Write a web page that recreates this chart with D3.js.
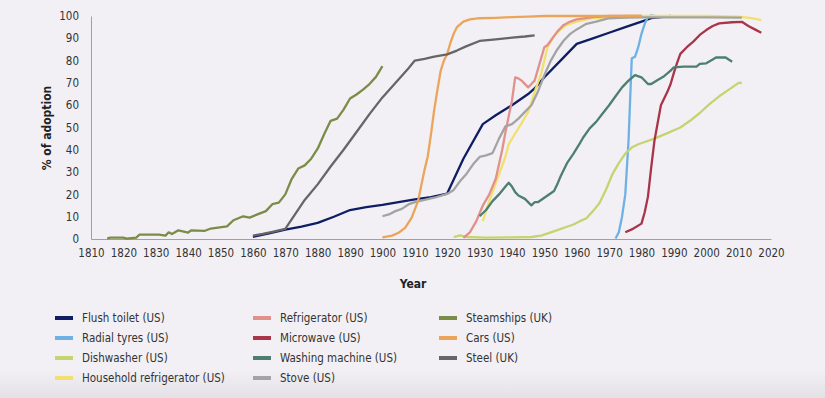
<!DOCTYPE html>
<html>
<head>
<meta charset="utf-8">
<script src="https://cdn.jsdelivr.net/npm/d3@7"></script>
<style>
  body { margin: 0; background: #f2f0f4; }
  #chart { width: 825px; height: 398px; }
  text { font-family: "Liberation Sans Narrow", "DejaVu Sans Condensed", sans-serif; fill: #333; }
  .axis text { font-size: 11.5px; }
  .axis path { stroke: #a0a0a0; }
  .ttl { font-weight: bold; font-size: 12px; fill: #222; }
  .leg text { font-size: 11.5px; }
</style>
</head>
<body>
<div id="chart"></div>
<script>
var xTicks = [1810, 1820, 1830, 1840, 1850, 1860, 1870, 1880, 1890, 1900, 1910,
  1920, 1930, 1940, 1950, 1960, 1970, 1980, 1990, 2000, 2010, 2020];
var yTicks = [0, 10, 20, 30, 40, 50, 60, 70, 80, 90, 100];

var flush = [[1860,1],[1865,2.5],[1870,4.2],[1875,5.5],[1880,7.2],[1885,10],[1890,13],[1895,14.3],
  [1900,15.3],[1905,16.5],[1910,17.8],[1915,18.8],[1920,20.4],[1925,36],[1931,51.5],[1935,55.5],
  [1940,60],[1945,65],[1947,67.5],[1950,72.5],[1955,80],[1960,87.5],[1965,90],[1970,92.5],
  [1975,95],[1980,97.5],[1983,99],[1986,99.5],[1989,100]];
var radial = [[1972,0.2],[1973,3],[1974,10],[1975,20],[1976,44],[1977,81],[1978,81.7],[1979,86],
  [1980,92],[1981,96.5],[1982,99.5],[1983,100.3],[1984,100]];
var dish = [[1922,0.9],[1924,1.6],[1926,0.9],[1932,0.6],[1940,0.7],[1946,0.9],[1949,1.5],[1952,3],
  [1954,4],[1957,5.5],[1959,6.5],[1961,8],[1963,9.3],[1965,12.5],[1967,16],[1969,22],[1971,29],
  [1973,34],[1975,38.3],[1977,41],[1979,42.5],[1981,43.5],[1984,45],[1988,47.5],[1992,50],
  [1995,53],[1998,56.5],[2001,60.5],[2004,64],[2007,67],[2010,70],[2011,70]];
var household = [[1931,8],[1933,17],[1935,25],[1936,29],[1938,37],[1939,42.5],[1941,47.3],[1943,52],
  [1945,57],[1946,61],[1947,66],[1949,74],[1951,86],[1953,91],[1955,94],[1957,96],[1960,97.5],
  [1965,99],[1970,99.5],[1975,100],[1980,100],[1990,100],[2000,100],[2010,99.7],[2014,99],[2017,98.2]];
var refrig = [[1925,0.5],[1927,3],[1929,8],[1931,15],[1933,20],[1935,27],[1937,40],[1938,48],
  [1939,55],[1940,62],[1941,72.5],[1942,72],[1943,71],[1945,68],[1946,69.5],[1947,71],[1948,76],
  [1949,81],[1950,86],[1951,87],[1952,89],[1954,93],[1956,96],[1958,97.5],[1960,98.5],[1965,99.5],
  [1970,100],[1975,100],[1980,100]];
var microwave = [[1975,3],[1977,4.3],[1980,6.9],[1981,12],[1982,19],[1983,32],[1984,44],[1985,52],
  [1986,60],[1988,66],[1989,69.5],[1990,74.5],[1991,79],[1992,83],[1994,86],[1996,88.5],[1998,91.5],
  [2000,93.7],[2002,95.5],[2004,96.7],[2008,97.2],[2011,97.4],[2013,95.5],[2015,94],[2017,92.5]];
var washing = [[1930,10.2],[1932,13],[1934,17],[1936,20],[1938,23.5],[1939,25.2],[1940,23.5],
  [1941,21],[1942,19.5],[1944,18],[1946,15.1],[1947,16.5],[1948,16.5],[1950,18.5],[1952,20.5],
  [1953,21.5],[1954,24.5],[1955,28],[1957,34],[1959,38.3],[1961,43],[1962,45.5],[1964,49.6],
  [1966,52.5],[1968,56.3],[1970,60],[1972,64],[1974,68],[1976,71],[1978,73.5],[1980,72.5],
  [1982,69.5],[1983,69.5],[1985,71.3],[1987,73],[1989,75.5],[1990,77],[1993,77.3],[1997,77.3],
  [1998,78.5],[2000,78.8],[2002,80.5],[2003,81.4],[2006,81.4],[2008,79.5]];
var stove = [[1900,10.2],[1902,11],[1904,12.5],[1906,13.5],[1908,15.5],[1910,16.5],[1913,17.5],
  [1916,18.5],[1920,20.2],[1922,22],[1924,26],[1926,29.3],[1928,33.5],[1930,36.8],[1932,37.5],
  [1934,38.5],[1936,45],[1938,50.5],[1940,51.5],[1942,54],[1944,57],[1946,60],[1948,66],[1950,73.5],
  [1952,80],[1954,85],[1956,89],[1958,92],[1960,94],[1963,96.5],[1966,97.5],[1970,99],[1975,99.3],
  [1980,99.4],[1990,99.4],[2000,99.4],[2011,99.3]];
var steam = [[1815,0.3],[1816,0.6],[1820,0.6],[1821,0.2],[1824,0.6],[1825,2],[1831,2],[1833,1.5],
  [1834,3],[1835,2.2],[1837,3.9],[1840,2.9],[1841,3.9],[1845,3.6],[1847,4.7],[1852,5.7],[1854,8.4],
  [1857,10.2],[1859,9.6],[1862,11.4],[1864,12.5],[1866,15.6],[1868,16.3],[1870,20],[1872,27],
  [1874,31.6],[1876,33],[1878,36],[1880,40.5],[1882,47],[1884,53],[1886,54],[1888,58],[1890,63],
  [1892,64.8],[1894,67],[1896,69.5],[1898,72.7],[1900,77.5]];
var cars = [[1900,0.7],[1903,1.5],[1905,2.8],[1907,5],[1909,9.5],[1911,17],[1912,24],[1913,31],
  [1914,37],[1915,47],[1916,58],[1917,67],[1918,75.5],[1919,80],[1920,83],[1921,88],[1922,92],
  [1923,95],[1925,97.5],[1927,98.5],[1930,99],[1935,99.2],[1940,99.5],[1945,99.7],[1950,100],
  [1960,100],[1970,100],[1980,100]];
var steel = [[1860,1.5],[1863,2.3],[1866,3.2],[1870,4.5],[1873,11],[1876,17.5],[1880,24.5],
  [1884,32.5],[1888,40],[1892,48],[1896,56],[1900,63.5],[1904,70],[1908,76.5],[1910,80],[1913,80.8],
  [1916,81.8],[1920,82.8],[1923,84.5],[1926,86.5],[1930,88.8],[1935,89.5],[1940,90.3],[1944,90.8],
  [1947,91.3]];

var seriesNames = ["Flush toilet (US)", "Radial tyres (US)", "Dishwasher (US)", "Household refrigerator (US)",
  "Refrigerator (US)", "Microwave (US)", "Washing machine (US)", "Stove (US)",
  "Steamships (UK)", "Cars (US)", "Steel (UK)"];
var seriesData = [flush, radial, dish, household, refrig, microwave, washing, stove, steam, cars, steel];
var seriesColors = ["#0f1d64", "#6eb1e4", "#c4d56f", "#f1e06e", "#e1918b", "#a8354a", "#4c7f6f",
  "#a3a3a3", "#7b8c48", "#eba55a", "#666666"];

window.onload = function() {
  var width = 825, height = 398;
  var svg = d3.select('#chart').append('svg').attr('width', width).attr('height', height);

  var defs = svg.append('defs');
  var grad = defs.append('linearGradient').attr('id', 'bg').attr('x1', 0).attr('x2', 0).attr('y1', 0).attr('y2', 1);
  grad.append('stop').attr('offset', '0.93').attr('stop-color', '#f2f0f4');
  grad.append('stop').attr('offset', '1').attr('stop-color', '#e4e2e6');
  svg.append('rect').attr('width', width).attr('height', height).attr('fill', 'url(#bg)');

  var x = d3.scaleLinear().domain([1810, 2020]).range([91, 771]);
  var y = d3.scaleLinear().domain([0, 100]).range([239, 16]);

  svg.append('g').attr('class', 'axis').attr('transform', 'translate(0,239)')
    .call(d3.axisBottom(x).tickValues(xTicks).tickFormat(d3.format('d')).tickSize(0).tickPadding(10));
  svg.append('g').attr('class', 'axis').attr('transform', 'translate(91,0)')
    .call(d3.axisLeft(y).tickValues(yTicks).tickSize(0).tickPadding(12));

  svg.append('text').attr('class', 'ttl').attr('x', 413).attr('y', 288)
    .attr('text-anchor', 'middle').text('Year');
  svg.append('text').attr('class', 'ttl').attr('transform', 'translate(51,128) rotate(-90)')
    .attr('text-anchor', 'middle').text('% of adoption');

  var line = d3.line().x(d => x(d[0])).y(d => y(d[1]));

  var g = svg.append('g');
  g.selectAll('path').data(seriesData).enter().append('path')
    .attr('d', line)
    .attr('fill', 'none')
    .attr('stroke', (d, i) => seriesColors[i])
    .attr('stroke-width', 2.3)
    .attr('stroke-linejoin', 'round');

  // legend: 3 columns, filled column by column
  var colX = [55, 253, 439];
  var leg = svg.append('g').attr('class', 'leg');
  seriesNames.forEach(function(name, i) {
    var cx = colX[Math.floor(i / 4)];
    var cy = 318 + (i % 4) * 20;
    leg.append('rect').attr('x', cx).attr('y', cy - 2).attr('width', 18).attr('height', 4)
      .attr('fill', seriesColors[i]);
    leg.append('text').attr('x', cx + 27).attr('y', cy + 4).text(name);
  });
};
</script>
</body>
</html>
